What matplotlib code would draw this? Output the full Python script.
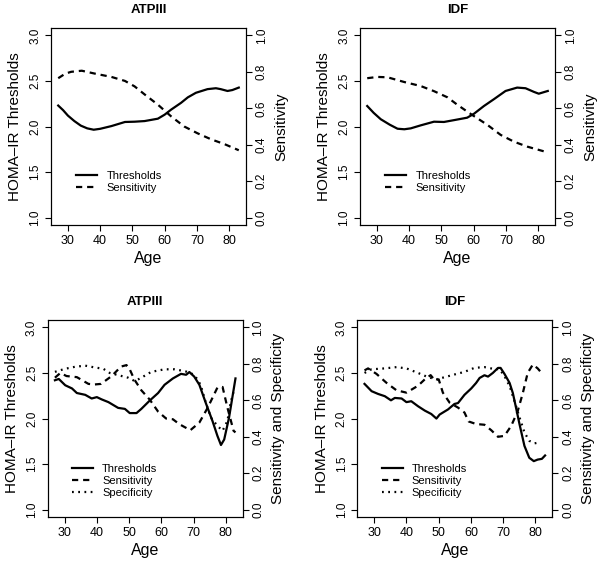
import matplotlib
matplotlib.use("Agg")
import matplotlib.pyplot as plt

plt.rcParams['font.family'] = ['Liberation Sans', 'DejaVu Sans']

# ---- top left : ATPIII, thresholds + sensitivity
tl_age = [27, 28.5, 30, 32, 34, 36, 38, 40, 43.5, 47.7, 50.7, 53.8, 57.9, 60, 62, 65.1, 67.2, 69.7, 73.3, 75.9, 77.4, 79.5, 81, 83]
tl_thr = [2.23, 2.18, 2.12, 2.06, 2.01, 1.98, 1.965, 1.975, 2.005, 2.05, 2.053, 2.06, 2.086, 2.13, 2.185, 2.26, 2.32, 2.37, 2.41, 2.42, 2.41, 2.39, 2.40, 2.427]
tl_sens_age = [27, 29.2, 31, 34.3, 38.4, 43.5, 47.7, 50.7, 53.8, 57.9, 62, 66.1, 70.2, 74.4, 78.5, 83]
tl_sens = [0.765, 0.79, 0.80, 0.806, 0.79, 0.772, 0.75, 0.72, 0.676, 0.62, 0.556, 0.50, 0.463, 0.43, 0.404, 0.37]

# ---- top right : IDF
tr_age = [27, 29, 31.2, 34, 36.4, 38.5, 40.5, 43.6, 47.7, 50.8, 53.9, 58, 60.1, 63.2, 66.3, 69.9, 73.5, 76.1, 78.7, 80.2, 83]
tr_thr = [2.225, 2.15, 2.08, 2.02, 1.976, 1.97, 1.98, 2.013, 2.053, 2.05, 2.07, 2.097, 2.14, 2.225, 2.30, 2.39, 2.427, 2.42, 2.38, 2.36, 2.39]
tr_sens_age = [27, 30.2, 33.3, 38.5, 43.6, 47.7, 51.9, 54.9, 59, 64.2, 68.4, 72.5, 76.6, 81.2, 82.6]
tr_sens = [0.765, 0.772, 0.77, 0.744, 0.722, 0.694, 0.66, 0.62, 0.57, 0.51, 0.454, 0.417, 0.39, 0.367, 0.36]

# ---- bottom left : ATPIII, thresholds + sensitivity + specificity
bl_age = [27, 28.2, 30.2, 32.3, 33.8, 36.4, 38.4, 40, 41.5, 43.6, 46.6, 48.7, 50.2, 52.3, 53.8, 56.4, 59, 61, 63.6, 66.1, 67.7, 68.7, 70.2, 71.8, 73.8, 75.9, 77.4, 78.5, 79.5, 81, 83]
bl_thr = [2.42, 2.434, 2.365, 2.33, 2.28, 2.26, 2.22, 2.235, 2.21, 2.18, 2.117, 2.106, 2.06, 2.06, 2.106, 2.197, 2.28, 2.37, 2.44, 2.49, 2.48, 2.51, 2.46, 2.37, 2.17, 1.97, 1.81, 1.71, 1.77, 2.01, 2.44]
bl_sens_age = [27, 28.7, 30.6, 33.8, 37.4, 39.4, 41.3, 44.6, 47.5, 49.2, 50.2, 51.6, 53.8, 56.4, 59, 61.5, 63.6, 65.6, 69, 71.8, 74.4, 77.4, 79, 80.5, 82.4, 83]
bl_sens = [0.724, 0.75, 0.733, 0.727, 0.69, 0.687, 0.69, 0.733, 0.785, 0.793, 0.77, 0.715, 0.655, 0.604, 0.538, 0.50, 0.496, 0.469, 0.436, 0.478, 0.56, 0.67, 0.673, 0.56, 0.433, 0.424]
bl_spec_age = [27, 30.2, 33.3, 36.4, 39.4, 42, 44, 46.6, 49.7, 51.8, 53.8, 56.9, 61, 64.1, 67.2, 69.2, 71.3, 72.3, 73.8, 75.4, 77.4, 79, 80.5, 81.5, 82.6]
bl_spec = [0.756, 0.773, 0.784, 0.79, 0.78, 0.773, 0.75, 0.738, 0.724, 0.705, 0.724, 0.756, 0.77, 0.77, 0.76, 0.75, 0.715, 0.678, 0.587, 0.505, 0.46, 0.433, 0.487, 0.587, 0.66]

# ---- bottom right : IDF
br_age = [27, 29.2, 31.2, 33.3, 35.2, 36.4, 38.5, 40, 41.5, 43.6, 45.7, 47.7, 49.3, 50.3, 52.9, 54.9, 56, 58, 60.1, 61.6, 62.7, 64.2, 65.3, 66.8, 68.4, 69.2, 70.4, 72, 73, 74, 75.1, 76.6, 78.1, 79.5, 80.7, 82, 83]
br_thr = [2.38, 2.30, 2.27, 2.245, 2.20, 2.226, 2.22, 2.18, 2.19, 2.135, 2.087, 2.05, 2.0, 2.044, 2.10, 2.16, 2.17, 2.26, 2.33, 2.39, 2.445, 2.475, 2.46, 2.50, 2.555, 2.555, 2.49, 2.39, 2.28, 2.117, 1.934, 1.70, 1.57, 1.533, 1.55, 1.558, 1.595]
br_sens_age = [27, 28.1, 30.7, 33.8, 36.9, 40, 43.6, 45.7, 47.5, 48.8, 50, 51.3, 53.4, 56, 58, 59.3, 61.6, 64.2, 66.3, 68.4, 70.4, 72.5, 74.5, 76.1, 77.6, 79.2, 80.7, 82.3]
br_sens = [0.764, 0.775, 0.745, 0.696, 0.655, 0.642, 0.68, 0.715, 0.738, 0.71, 0.715, 0.642, 0.587, 0.56, 0.533, 0.484, 0.47, 0.466, 0.436, 0.40, 0.405, 0.46, 0.54, 0.64, 0.75, 0.796, 0.775, 0.742]
br_spec_age = [27, 29.2, 33.3, 36.9, 40, 43.6, 46.7, 49.3, 51.9, 55, 58, 61.1, 64.2, 66.8, 68.9, 70.4, 72, 73.5, 75.1, 76.6, 78.1, 79.7, 81.5]
br_spec = [0.75, 0.77, 0.775, 0.782, 0.775, 0.75, 0.727, 0.715, 0.727, 0.742, 0.756, 0.778, 0.782, 0.773, 0.77, 0.733, 0.678, 0.596, 0.505, 0.424, 0.378, 0.364, 0.37]

titles = ['ATPIII', 'IDF', 'ATPIII', 'IDF']
lw = 1.6
DASH = (0, (2.8, 2.2))
DOT = (0, (0.8, 2.0))


def panel(rect, title, age, thr, sens_age, sens, spec_age=None, spec=None):
    ax = fig.add_axes(rect)
    ax2 = ax.twinx()
    h1, = ax.plot(age, thr, color='black', lw=lw, label='Thresholds')
    h2, = ax2.plot(sens_age, sens, color='black', lw=lw, ls=DASH, label='Sensitivity')
    handles = [h1, h2]
    if spec is not None:
        h3, = ax2.plot(spec_age, spec, color='black', lw=lw, ls=DOT, label='Specificity')
        handles.append(h3)
        ax2.set_ylabel('Sensitivity and Specificity', fontsize=11, labelpad=5)
    else:
        ax2.set_ylabel('Sensitivity', fontsize=11, labelpad=5)
    ax.set_xlim(24.76, 85.24)
    ax.set_ylim(0.92, 3.08)
    ax2.set_ylim(-0.04, 1.04)
    ax.set_xticks([30, 40, 50, 60, 70, 80])
    ax.set_yticks([1.0, 1.5, 2.0, 2.5, 3.0])
    ax.set_yticklabels(['1.0', '1.5', '2.0', '2.5', '3.0'], rotation=90, va='center')
    ax2.set_yticks([0.0, 0.2, 0.4, 0.6, 0.8, 1.0])
    ax2.set_yticklabels(['0.0', '0.2', '0.4', '0.6', '0.8', '1.0'], rotation=90, va='center')
    for a in (ax, ax2):
        a.tick_params(direction='out', length=4, width=0.8, labelsize=8.5, pad=3)
        for s in a.spines.values():
            s.set_linewidth(0.8)
    ax.tick_params(axis='x', labelsize=9)
    ax.set_xlabel('Age', fontsize=11.5, labelpad=3)
    ax.set_ylabel('HOMA\u2013IR Thresholds', fontsize=11, labelpad=5)
    ax.set_title(title, fontsize=9.5, fontweight='bold', pad=11)
    if spec is None:
        anchor = (0.13, 0.275)
    else:
        anchor = (0.125, 0.27)
    ax.legend(handles=handles, loc='upper left', bbox_to_anchor=anchor,
              frameon=False, fontsize=8, handlelength=1.9, handletextpad=0.8,
              labelspacing=0.18, borderpad=0, borderaxespad=0)
    return ax


fig = plt.figure(figsize=(6, 5.62), dpi=100)
panel([0.085, 0.5996, 0.325, 0.3505], titles[0], tl_age, tl_thr, tl_sens_age, tl_sens)
panel([0.600, 0.5996, 0.325, 0.3505], titles[1], tr_age, tr_thr, tr_sens_age, tr_sens)
panel([0.0795, 0.080, 0.325, 0.3505], titles[2], bl_age, bl_thr, bl_sens_age, bl_sens, bl_spec_age, bl_spec)
panel([0.5955, 0.080, 0.325, 0.3505], titles[3], br_age, br_thr, br_sens_age, br_sens, br_spec_age, br_spec)

fig.savefig('out.png', dpi=100)
